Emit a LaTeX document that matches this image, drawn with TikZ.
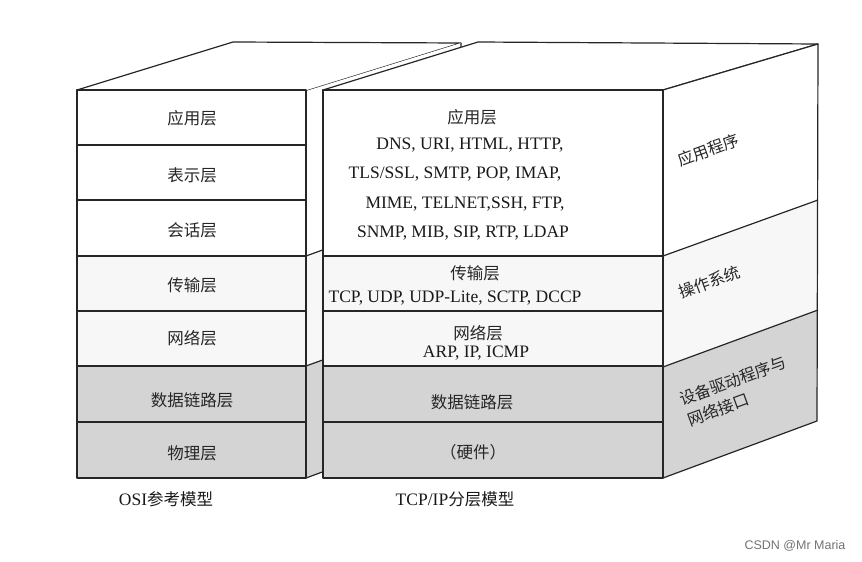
\documentclass[tikz,border=0pt]{standalone}
\usepackage{fontspec}
\setmainfont{Liberation Serif}
\newfontfamily\cjk{Noto Sans CJK SC}
\newfontfamily\wmfont{Liberation Sans}
\begin{document}
\begin{tikzpicture}[x=1pt,y=-1pt]
\tikzset{
 edge/.style={draw=black!85, line width=1.2pt, line join=round},
 lightfill/.style={fill=black!3},
 grayfill/.style={fill=black!17},
 lay/.style={font=\cjk\fontsize{16.5}{19}\selectfont, text=black!85, inner sep=0pt},
 proto/.style={font=\fontsize{17.5}{20}\selectfont, text=black!90, inner sep=0pt},
 side/.style={font=\cjk\fontsize{16}{22}\selectfont, text=black!85, inner sep=0pt, rotate=20, align=left},
}
\useasboundingbox (0,0) rectangle (862,562);
\fill[white] (0,0) rectangle (862,562);

% ---------- OSI box ----------
% top face
\draw[edge, fill=white] (77,90) -- (233,42) -- (461,43) -- (306,91) -- cycle;
% right face (mostly hidden)
\fill[white] (306,91) -- (461,43) -- (461,200) -- (306,256) -- cycle;
\fill[lightfill] (306,256) -- (461,200) -- (461,310) -- (306,366) -- cycle;
\fill[grayfill] (306,366) -- (461,310) -- (461,421) -- (306,478) -- cycle;
\draw[edge] (306,256) -- (461,200);
\draw[edge] (306,366) -- (461,310);
\draw[edge] (306,478) -- (461,421) -- (461,43);
% front
\fill[white] (77,90) rectangle (306,256);
\fill[lightfill] (77,256) rectangle (306,366);
\fill[grayfill] (77,366) rectangle (306,478);
\foreach \yy in {145,200,256,311,366,422} \draw[edge] (77,\yy) -- (306,\yy);
\draw[edge] (77,90) rectangle (306,478);

% ---------- TCP/IP box ----------
\draw[edge, fill=white] (323,90) -- (478,42) -- (818,44) -- (663,90) -- cycle;
% right face
\fill[white] (663,90) -- (818,44) -- (818,200) -- (663,256) -- cycle;
\fill[lightfill] (663,256) -- (818,200) -- (818,310) -- (663,367) -- cycle;
\fill[grayfill] (663,367) -- (818,310) -- (817,421) -- (663,478) -- cycle;
\draw[edge] (663,256) -- (818,200);
\draw[edge] (663,367) -- (818,310);
\draw[edge] (663,90) -- (818,44) -- (817,421) -- (663,478);
% front
\fill[white] (323,90) rectangle (663,256);
\fill[lightfill] (323,256) rectangle (663,366);
\fill[grayfill] (323,366) rectangle (663,478);
\foreach \yy in {256,311,366,422} \draw[edge] (323,\yy) -- (663,\yy);
\draw[edge] (323,90) rectangle (663,478);

% ---------- OSI labels ----------
\node[lay] (o7) at (192,118) {应用层};
\node[lay] (o6) at (192,175) {表示层};
\node[lay] (o5) at (192,230) {会话层};
\node[lay] (o4) at (192,285) {传输层};
\node[lay] (o3) at (192,338) {网络层};
\node[lay] (o2) at (192,400) {数据链路层};
\node[lay] (o1) at (192,453) {物理层};

% ---------- TCP/IP labels ----------
\node[lay] (tapp) at (472,117) {应用层};
\node[proto] (p1) at (470,145) {DNS, URI, HTML, HTTP,};
\node[proto] (p2) at (455,174) {TLS/SSL, SMTP, POP, IMAP,};
\node[proto] (p3) at (465,204) {MIME, TELNET,SSH, FTP,};
\node[proto] (p4) at (463,233) {SNMP, MIB, SIP, RTP, LDAP};
\node[lay] (ttr) at (475,273) {传输层};
\node[proto] (p5) at (455,298) {TCP, UDP, UDP-Lite, SCTP, DCCP};
\node[lay] (tnet) at (478,333) {网络层};
\node[proto] (p6) at (476,353) {ARP, IP, ICMP};
\node[lay] (tdl) at (472,402) {数据链路层};
\node[lay] (thw) at (473,452) {（硬件）};

% ---------- side labels ----------
\node[side] (s1) at (708,150) {应用程序};
\node[side] (s2) at (709,282) {操作系统};
\node[side] (s3) at (737,391) {设备驱动程序与\\网络接口};

% ---------- captions ----------
\node[proto] (c1) at (166,499) {OSI{\cjk\fontsize{16.5}{19}\selectfont 参考模型}};
\node[proto] (c2) at (455,499) {TCP/IP{\cjk\fontsize{16.5}{19}\selectfont 分层模型}};

\node[font=\wmfont\fontsize{12.5}{14}\selectfont, text=black!55, inner sep=0pt] (wm) at (795,546) {CSDN @Mr Maria};
\end{tikzpicture}
\end{document}
